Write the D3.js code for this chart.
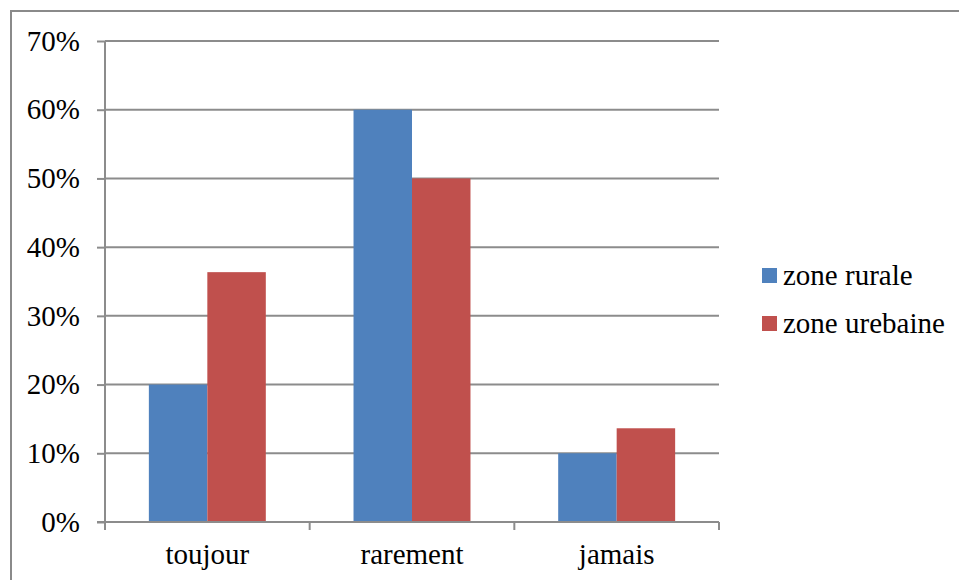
<!DOCTYPE html>
<html>
<head>
<meta charset="utf-8">
<script src="https://cdn.jsdelivr.net/npm/d3@7"></script>
<style>
  html, body { margin: 0; padding: 0; background: #fff; }
  svg text { font-family: "Liberation Serif", "DejaVu Serif", serif; fill: #000; }
</style>
</head>
<body>
<svg id="chart" width="959" height="580"></svg>
<script>
// Fréquence par zone
const categories = ["toujour", "rarement", "jamais"];
const seriesNames = ["zone rurale", "zone urebaine"];
const rurale = [0.20, 0.60, 0.10];
const urbaine = [0.3636, 0.50, 0.1364];
const yTicks = [0, 0.1, 0.2, 0.3, 0.4, 0.5, 0.6, 0.7];
const colors = ["#4f81bd", "#c0504d"];

const svg = d3.select("#chart");
const plotLeft = 105, plotRight = 719, plotTop = 41, plotBottom = 522;
const fontSize = 29;

// outer frame
svg.append("rect")
  .attr("x", 11).attr("y", 11).attr("width", 1000).attr("height", 1000)
  .attr("fill", "none").attr("stroke", "#8a8a8a").attr("stroke-width", 2);

const x = d3.scaleBand().domain(categories).range([plotLeft, plotRight]).paddingInner(0).paddingOuter(0);
const y = d3.scaleLinear().domain([0, 0.7]).range([plotBottom, plotTop]);

// gridlines
svg.append("g").selectAll("line").data(yTicks.filter(d => d > 0)).join("line")
  .attr("x1", plotLeft).attr("x2", plotRight)
  .attr("y1", d => y(d)).attr("y2", d => y(d))
  .attr("stroke", "#8c8c8c").attr("stroke-width", 2);

// bars: gap width 150% of a single bar
const bw = x.bandwidth() / (2 + 1.5);
const data = [];
categories.forEach((c, i) => {
  [rurale[i], urbaine[i]].forEach((v, s) => data.push({c, s, v}));
});
svg.append("g").selectAll("rect").data(data).join("rect")
  .attr("x", d => x(d.c) + bw * 0.75 + d.s * bw)
  .attr("width", bw)
  .attr("y", d => y(d.v))
  .attr("height", d => y(0) - y(d.v))
  .attr("fill", d => colors[d.s]);

// y axis
const yAxis = d3.axisLeft(y).tickValues(yTicks).tickFormat(d3.format(".0%")).tickSize(8).tickPadding(17);
const gy = svg.append("g").attr("transform", `translate(${plotLeft},0)`).call(yAxis);
gy.select(".domain").attr("stroke", "#8c8c8c").attr("stroke-width", 2).attr("d", `M0,${plotTop}V${plotBottom}`);
gy.selectAll(".tick line").attr("stroke", "#8c8c8c").attr("stroke-width", 2);
gy.selectAll(".tick text").attr("font-size", fontSize).attr("font-family", "Liberation Serif").attr("fill", "#000").attr("dy", "0.32em");

// x axis
const xAxis = d3.axisBottom(x).tickSize(0).tickPadding(21);
const gx = svg.append("g").attr("transform", `translate(0,${plotBottom})`).call(xAxis);
gx.select(".domain").attr("stroke", "#8c8c8c").attr("stroke-width", 2).attr("d", `M${plotLeft - 8},0H${plotRight}`);
gx.selectAll(".tick text").attr("font-size", fontSize).attr("font-family", "Liberation Serif").attr("fill", "#000");
// category separators
svg.append("g").selectAll("line").data([plotLeft, ...categories.map(c => x(c) + x.bandwidth())]).join("line")
  .attr("x1", d => d).attr("x2", d => d)
  .attr("y1", plotBottom).attr("y2", plotBottom + 8)
  .attr("stroke", "#8c8c8c").attr("stroke-width", 2);

// legend
const lg = svg.append("g").selectAll("g").data(seriesNames).join("g")
  .attr("transform", (d, i) => `translate(762,${268 + i * 48})`);
lg.append("rect").attr("width", 15).attr("height", 15).attr("fill", (d, i) => colors[i]);
lg.append("text").attr("x", 21).attr("y", 17).attr("font-size", fontSize).text(d => d);
</script>
</body>
</html>
